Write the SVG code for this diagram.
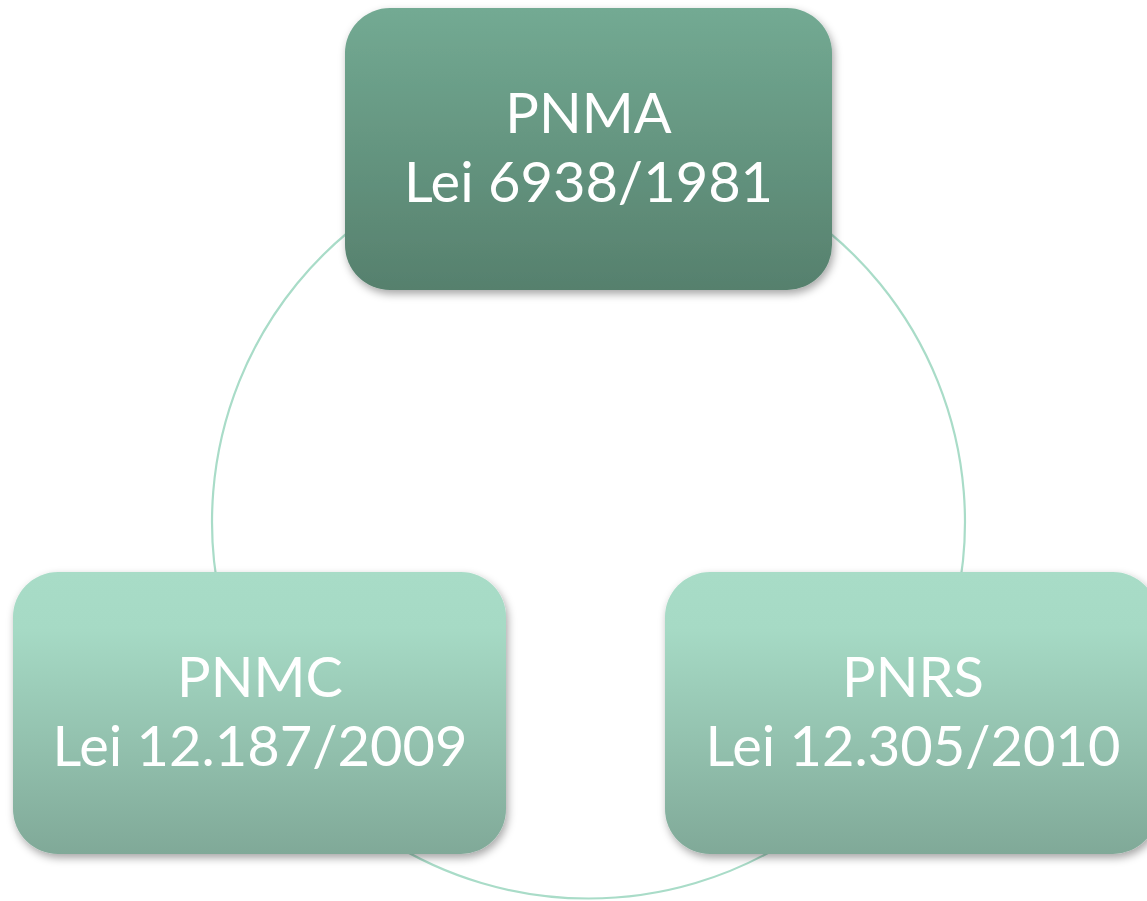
<svg xmlns="http://www.w3.org/2000/svg" width="1147" height="901" viewBox="0 0 1147 901">
  <defs>
    <linearGradient id="gDark" x1="0" y1="0" x2="0" y2="1">
      <stop offset="0" stop-color="#73aa93"/>
      <stop offset="1" stop-color="#56806d"/>
    </linearGradient>
    <linearGradient id="gLight" x1="0" y1="0" x2="0" y2="1">
      <stop offset="0" stop-color="#a8dcc7"/>
      <stop offset="0.2" stop-color="#a6dac5"/>
      <stop offset="1" stop-color="#80a998"/>
    </linearGradient>
    <filter id="shadow" x="-10%" y="-10%" width="120%" height="130%">
      <feDropShadow dx="2" dy="4" stdDeviation="4" flood-color="#000" flood-opacity="0.35"/>
    </filter>
  </defs>
  <style>
    .conn { fill: none; stroke: #a9dcc8; stroke-width: 2.2; }
    .lbl { font-family: Lato, "Liberation Sans", sans-serif; font-size: 56px; fill: #ffffff; text-anchor: middle; }
  </style>
  <rect width="1147" height="901" fill="#ffffff"/>
  <g id="connectors">
    <path class="conn" d="M 800 210.5 A 376.5 376.5 0 0 1 956.8 600"/>
    <path class="conn" d="M 790.1 840 A 376.5 376.5 0 0 1 386.9 840"/>
    <path class="conn" d="M 220.2 600 A 376.5 376.5 0 0 1 377 210.5"/>
  </g>
  <g id="node-pnma">
    <rect x="345" y="8" width="487" height="282" rx="45" ry="45" fill="url(#gDark)" filter="url(#shadow)"/>
    <text class="lbl" x="588.5" y="133">PNMA</text>
    <text class="lbl" x="588.5" y="202">Lei 6938/1981</text>
  </g>
  <g id="node-pnmc">
    <rect x="13" y="572" width="493" height="282" rx="45" ry="45" fill="url(#gLight)" filter="url(#shadow)"/>
    <text class="lbl" x="260" y="697">PNMC</text>
    <text class="lbl" x="260" y="766">Lei 12.187/2009</text>
  </g>
  <g id="node-pnrs">
    <rect x="665" y="572" width="493" height="282" rx="45" ry="45" fill="url(#gLight)" filter="url(#shadow)"/>
    <text class="lbl" x="913" y="697">PNRS</text>
    <text class="lbl" x="913" y="766">Lei 12.305/2010</text>
  </g>
</svg>
